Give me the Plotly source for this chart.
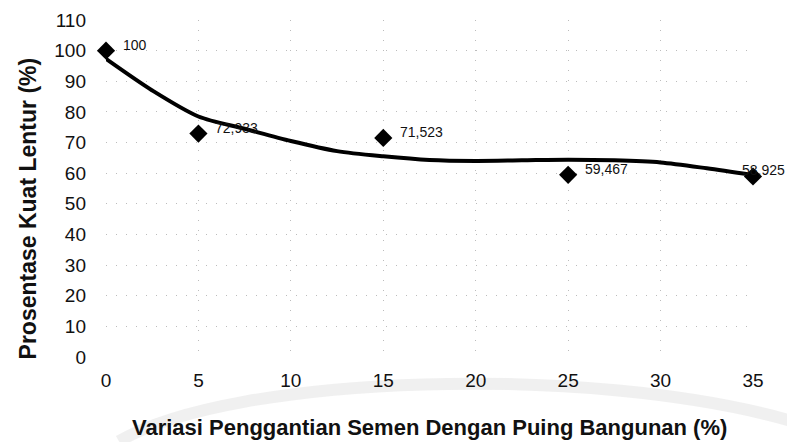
'''
    Line chart: percentage of flexural strength vs cement replacement with rubble.
'''
import plotly.graph_objects as go

# Measured points
variasi = [0, 5, 15, 25, 35]
kuat_lentur = [100, 72.933, 71.523, 59.467, 58.925]
label_text = ["100", "72,933", "71,523", "59,467", "58,925"]

# Trend curve
trend_x = [0, 2.5, 5, 7.5, 10, 12.5, 15, 17.5, 20, 22.5, 25, 27.5, 30, 32.5, 35]
trend_y = [97.3, 87.0, 78.5, 74.5, 70.5, 67.2, 65.5, 64.3, 64.0, 64.2, 64.4, 64.2, 63.5, 61.6, 59.4]

x_ticks = [0, 5, 10, 15, 20, 25, 30, 35]
y_ticks = [0, 10, 20, 30, 40, 50, 60, 70, 80, 90, 100, 110]

FONT = "Liberation Sans, Arial, sans-serif"

fig = go.Figure()

# faint watermark arc behind the x axis labels
fig.add_shape(
    type="path", xref="paper", yref="paper", layer="below",
    path="M 0.02,-0.25 C 0.2,-0.05 0.75,-0.02 1.06,-0.19",
    line=dict(color="rgba(160,160,160,0.16)", width=12),
)

fig.add_trace(go.Scatter(
    x=trend_x, y=trend_y, mode="lines",
    line=dict(color="black", width=4, shape="spline", smoothing=0.8),
    hoverinfo="skip",
))

fig.add_trace(go.Scatter(
    x=variasi, y=kuat_lentur, mode="markers",
    marker=dict(symbol="diamond", size=14, color="black"),
    cliponaxis=False,
))

# data labels, right of each marker; the last one is pulled in to fit the page
for i, (xv, yv, t) in enumerate(zip(variasi, kuat_lentur, label_text)):
    last = i == len(variasi) - 1
    fig.add_annotation(
        x=xv, y=yv, text=t, showarrow=False,
        xanchor="right" if last else "left", yanchor="middle",
        xshift=34 if last else 15, yshift=6,
        font=dict(family=FONT, size=14, color="#111"),
    )

# axis titles as paper annotations so they sit where the picture has them
fig.add_annotation(
    xref="paper", yref="paper", x=-0.121, y=0.44,
    text="<b>Prosentase Kuat Lentur (%)</b>", textangle=-90,
    showarrow=False, xanchor="center", yanchor="middle",
    font=dict(family=FONT, size=23, color="#111"),
)
fig.add_annotation(
    xref="paper", yref="paper", x=0.5, y=-0.21,
    text="<b>Variasi Penggantian Semen Dengan Puing Bangunan (%)</b>",
    showarrow=False, xanchor="center", yanchor="middle",
    font=dict(family=FONT, size=22, color="#111"),
)

fig.update_layout(
    width=787, height=442,
    margin=dict(l=106, r=34, t=20, b=85),
    paper_bgcolor="white", plot_bgcolor="white",
    showlegend=False,
    font=dict(family=FONT, color="#111"),
    xaxis=dict(
        range=[0, 35], tickvals=x_ticks, showgrid=True,
        gridcolor="#bcbcbc", griddash="1px,9px", gridwidth=1,
        zeroline=False, showline=False, ticks="", automargin=False,
        tickfont=dict(size=19), ticklabelstandoff=10,
    ),
    yaxis=dict(
        range=[0, 110], tickvals=y_ticks, showgrid=True,
        gridcolor="#bcbcbc", griddash="1px,9px", gridwidth=1,
        zeroline=False, showline=False, ticks="", automargin=False,
        tickfont=dict(size=19), ticklabelstandoff=19,
    ),
)

fig.write_html("out.html", config={"displayModeBar": False},
               post_script="document.body.style.margin='0';")
